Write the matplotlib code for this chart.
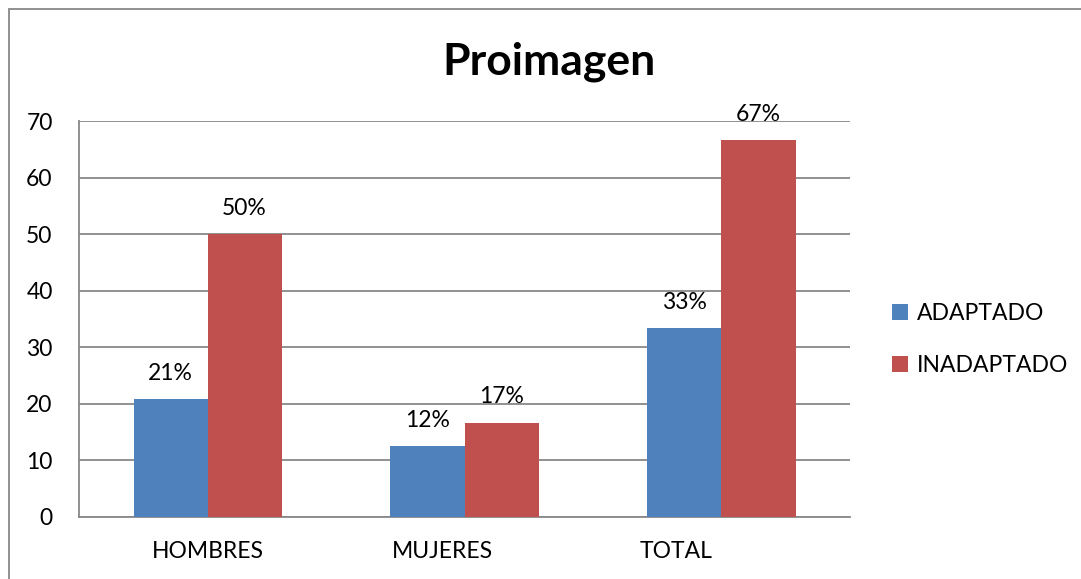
import numpy as np
import matplotlib.pyplot as plt
import matplotlib.transforms as mtransforms
from matplotlib.patches import Rectangle

# ====== Data ======
categories = ["HOMBRES", "MUJERES", "TOTAL"]
adaptado = [20.83, 12.5, 33.33]
inadaptado = [50.0, 16.67, 66.67]
adaptado_labels = ["21%", "12%", "33%"]
inadaptado_labels = ["50%", "17%", "67%"]
series_names = ["ADAPTADO", "INADAPTADO"]
yticks = [0, 10, 20, 30, 40, 50, 60, 70]

plt.rcParams['font.family'] = ['Lato', 'DejaVu Sans']

fig = plt.figure(figsize=(10.81, 5.79), dpi=100)
ax = fig.add_axes([0.0731, 0.1071, 0.7132, 0.6839])

x = np.arange(len(categories))
w = 0.288
b1 = ax.bar(x - w / 2, adaptado, w, color='#4f81bd', label=series_names[0], zorder=3)
b2 = ax.bar(x + w / 2, inadaptado, w, color='#c0504d', label=series_names[1], zorder=3)

# data labels above the bars
for bars, labels in [(b1, adaptado_labels), (b2, inadaptado_labels)]:
    for bar, lab in zip(bars, labels):
        ax.annotate(lab, (bar.get_x() + bar.get_width() / 2, bar.get_height()),
                    xytext=(0, 11), textcoords='offset points',
                    ha='center', va='bottom', fontsize=16.5, color='black')

ax.set_xlim(-0.5, 2.5)
ax.set_ylim(0, 70)
ax.set_yticks(yticks)
ax.set_xticks(x)
ax.set_xticklabels(categories, fontsize=16.5)
ax.tick_params(axis='y', labelsize=16.5, length=0, pad=19)
ax.tick_params(axis='x', length=0, pad=17)

# the original's category labels drift left of the bar groups
for lab, dx in zip(ax.get_xticklabels(), [0, -22, -45]):
    lab.set_transform(lab.get_transform() +
                      mtransforms.ScaledTranslation(dx / 100, 0, fig.dpi_scale_trans))

ax.grid(axis='y', color='#888888', linewidth=1.3, zorder=0)
for s in ['top', 'right']:
    ax.spines[s].set_visible(False)
for s in ['left', 'bottom']:
    ax.spines[s].set_color('#888888')
    ax.spines[s].set_linewidth(1.3)

fig.text(0.508, 0.893, "Proimagen", ha='center', va='center',
         fontsize=32, fontweight='bold')

fig.legend(handles=[b1, b2], loc='center left', bbox_to_anchor=(0.806, 0.414),
           frameon=False, fontsize=16.5, handlelength=0.7, handleheight=0.7,
           handletextpad=0.4, labelspacing=1.35)

# outer chart border (only left and top visible)
fig.patches.append(Rectangle((9 / 1081, -0.1), 1.2, 0.1 + (579 - 9.5) / 579,
                             transform=fig.transFigure, fill=False,
                             edgecolor='#888888', linewidth=1.3))

fig.savefig("out.png", dpi=100)
